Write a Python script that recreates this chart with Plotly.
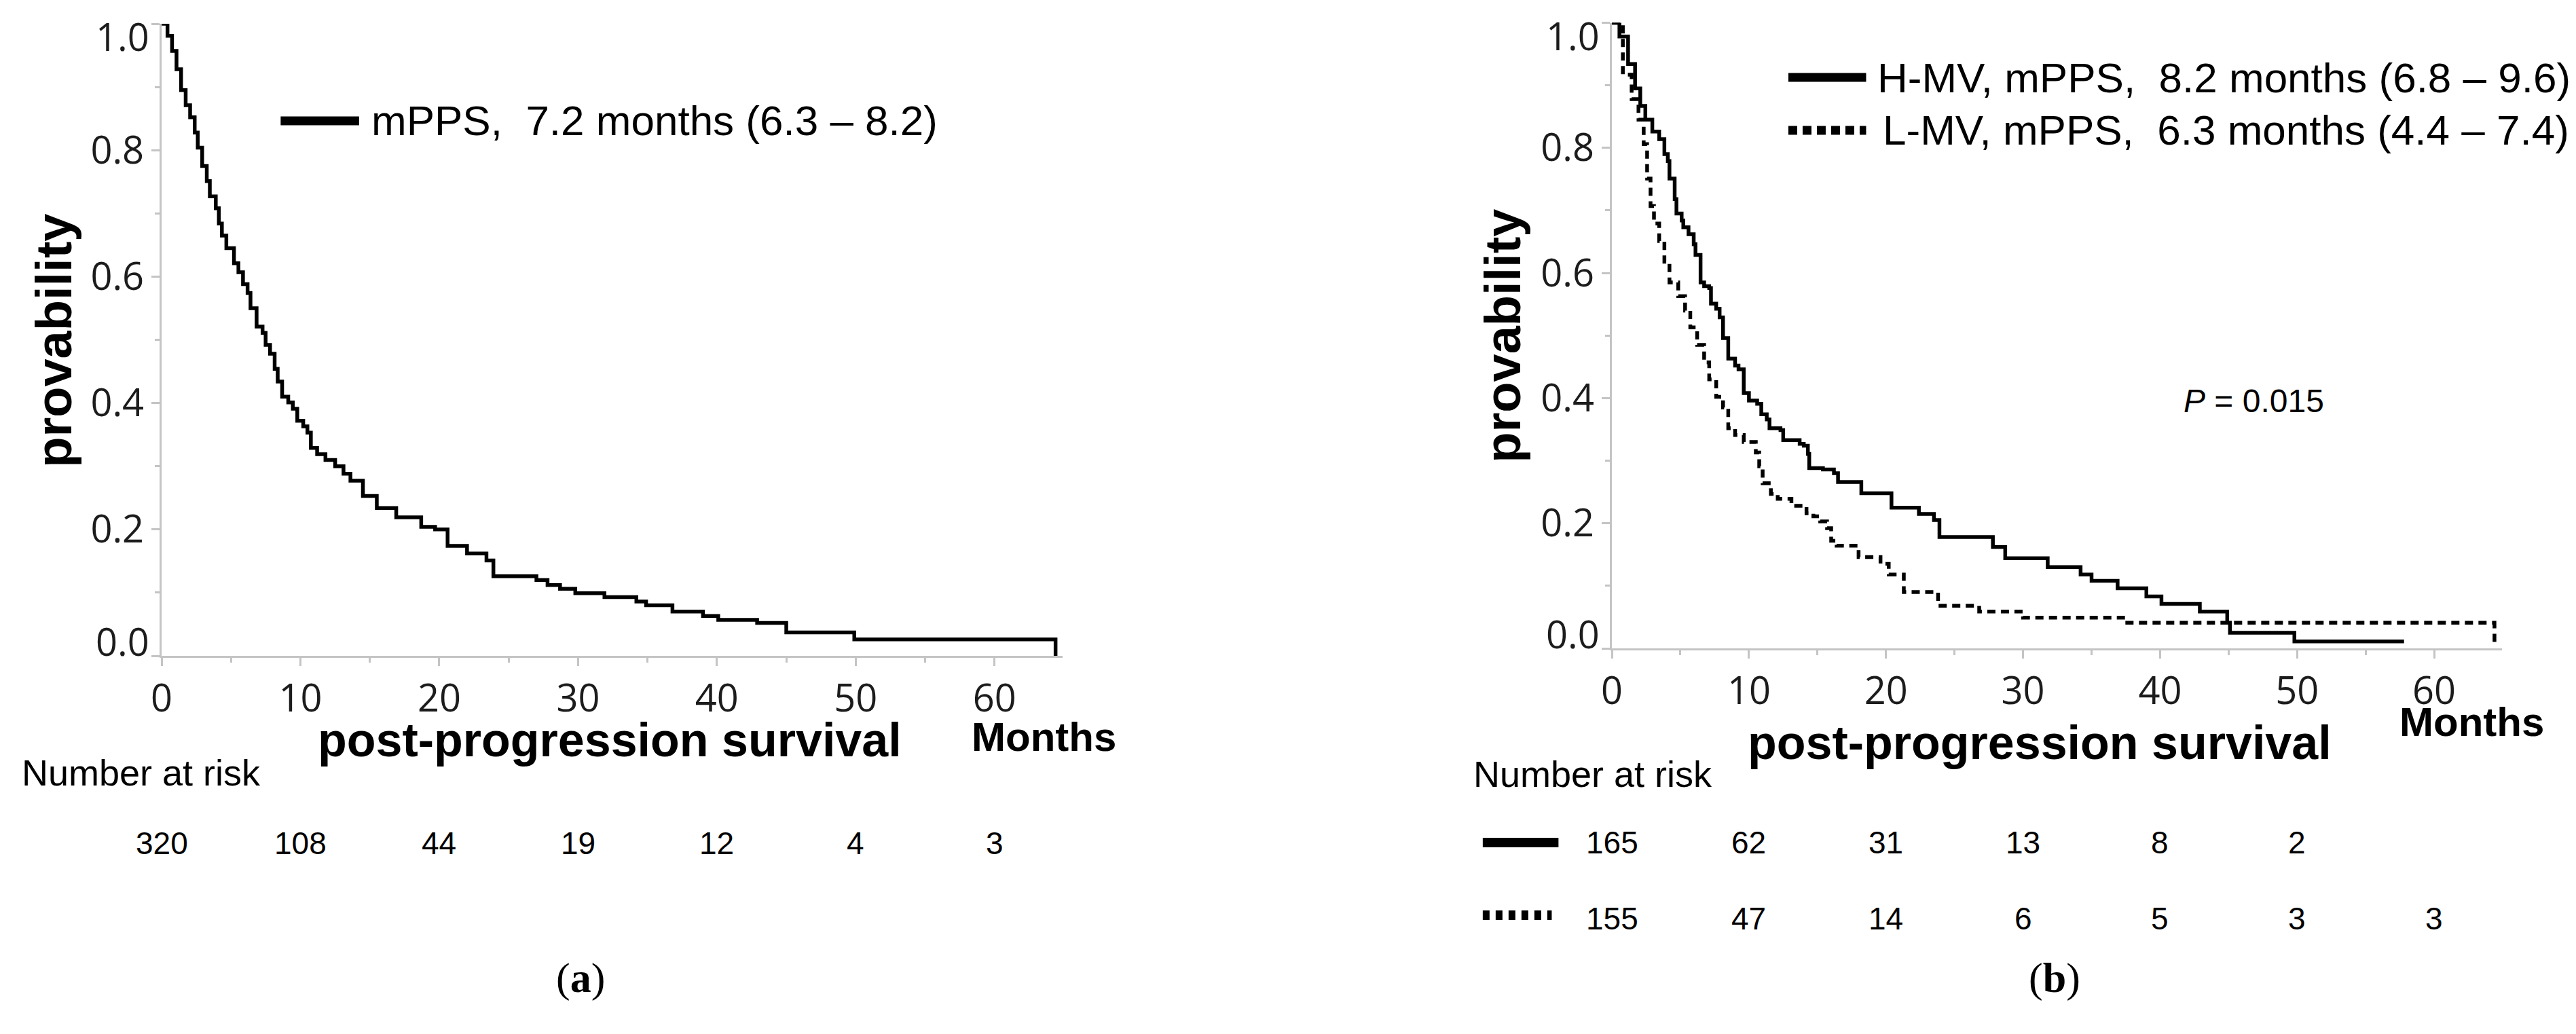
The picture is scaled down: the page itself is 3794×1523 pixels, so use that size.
import plotly.graph_objects as go

# ---------------- data ----------------
# Panel (a): all patients, Kaplan-Meier post-progression survival
t_all = [0, 0.42, 0.75, 1.07, 1.40, 1.73, 2.05, 2.38, 2.60, 2.92, 3.25, 3.47, 3.90, 4.12,
         4.34, 4.66, 5.21, 5.53, 5.86, 6.19, 6.40, 6.84, 7.27, 7.49, 7.81, 8.14, 8.36, 8.68,
         9.12, 9.45, 9.77, 10.2, 10.5, 10.75, 11.2, 11.8, 12.5, 13.1, 13.6, 14.5, 15.5, 16.9,
         18.7, 19.7, 20.6, 22.0, 23.4, 23.9, 27.0, 27.8, 28.7, 29.8, 31.9, 34.2, 34.9, 36.8,
         39.0, 40.1, 42.9, 45.0, 49.9, 64.4]
s_all = [1.0, 0.981, 0.957, 0.928, 0.895, 0.871, 0.852, 0.828, 0.804, 0.775, 0.751, 0.727,
         0.708, 0.684, 0.665, 0.645, 0.621, 0.607, 0.588, 0.574, 0.550, 0.521, 0.511, 0.492,
         0.478, 0.454, 0.434, 0.410, 0.401, 0.391, 0.372, 0.363, 0.353, 0.329, 0.319, 0.310,
         0.300, 0.288, 0.277, 0.253, 0.234, 0.219, 0.204, 0.200, 0.174, 0.162, 0.151, 0.126,
         0.120, 0.112, 0.106, 0.099, 0.093, 0.086, 0.080, 0.070, 0.063, 0.057, 0.052, 0.037,
         0.026, 0.0]

# Panel (b): H-MV (solid) and L-MV (dotted)
t_hmv = [0, 0.55, 1.18, 1.69, 2.07, 2.44, 2.95, 3.45, 3.83, 4.08, 4.20, 4.58, 4.71, 5.09,
         5.21, 5.59, 5.97, 6.10, 6.47, 6.73, 7.10, 7.23, 7.61, 7.86, 8.11, 8.49, 8.99, 9.24,
         9.62, 10.0, 10.6, 10.9, 11.3, 11.5, 12.3, 12.5, 13.7, 14.0, 14.3, 14.4, 15.4, 16.2,
         16.5, 18.2, 20.4, 22.4, 23.5, 23.9, 27.8, 28.7, 31.8, 34.2, 35.0, 36.9, 39.0, 40.1,
         42.9, 44.9, 45.1, 49.8, 57.8]
s_hmv = [1.0, 0.978, 0.934, 0.895, 0.867, 0.845, 0.826, 0.814, 0.790, 0.779, 0.751, 0.718,
         0.695, 0.684, 0.673, 0.662, 0.646, 0.629, 0.585, 0.579, 0.576, 0.551, 0.543, 0.529,
         0.496, 0.463, 0.452, 0.446, 0.408, 0.396, 0.391, 0.374, 0.366, 0.352, 0.349, 0.333,
         0.327, 0.324, 0.311, 0.288, 0.286, 0.280, 0.266, 0.248, 0.225, 0.215, 0.205, 0.178,
         0.162, 0.144, 0.130, 0.118, 0.108, 0.096, 0.083, 0.071, 0.059, 0.041, 0.025, 0.011,
         0.011]
t_lmv = [0, 0.8, 1.44, 1.94, 2.32, 2.57, 2.82, 3.07, 3.45, 3.83, 4.2, 4.84, 5.34, 5.72, 6.22,
         6.73, 7.1, 7.61, 8.11, 8.49, 8.99, 9.62, 10.5, 10.75, 11.0, 11.6, 12.1, 13.1, 14.2,
         14.7, 15.2, 15.7, 16.0, 16.4, 18.0, 19.6, 20.2, 21.3, 23.8, 26.8, 30.0, 37.3, 64.4]
s_lmv = [1.0, 0.917, 0.878, 0.845, 0.806, 0.751, 0.707, 0.679, 0.651, 0.618, 0.585, 0.563,
         0.540, 0.513, 0.485, 0.457, 0.430, 0.402, 0.385, 0.352, 0.341, 0.330, 0.313, 0.291,
         0.264, 0.247, 0.239, 0.228, 0.216, 0.211, 0.203, 0.192, 0.172, 0.164, 0.146, 0.135,
         0.118, 0.090, 0.068, 0.059, 0.049, 0.041, 0.008]

# Number at risk tables
risk_times = [0, 10, 20, 30, 40, 50, 60]
risk_all = [320, 108, 44, 19, 12, 4, 3]
risk_hmv = [165, 62, 31, 13, 8, 2, None]
risk_lmv = [155, 47, 14, 6, 5, 3, 3]

# Axis ticks
x_ticks = [0, 10, 20, 30, 40, 50, 60]
y_ticks = [0.0, 0.2, 0.4, 0.6, 0.8, 1.0]
y_ticktext = ["0.0", "0.2", "0.4", "0.6", "0.8", "1.0"]

# Texts
legend_a = "mPPS,\u00a0\u00a07.2 months (6.3 \u2013 8.2)"
legend_h = "H-MV, mPPS,\u00a0\u00a08.2 months (6.8 \u2013 9.6)"
legend_l = "L-MV, mPPS,\u00a0\u00a06.3 months (4.4 \u2013 7.4)"
p_text = "<i>P</i> = 0.015"

# ---------------- layout helpers ----------------
W, H = 3794, 1523


def px(x):
    return x / W


def py(y):
    return 1 - y / H


SANS = "Liberation Sans, Arial, sans-serif"
TICKFONT = dict(family="Open Sans, sans-serif", size=56, color="#1c1c1c")
AXCOL = "#c4c4c4"

fig = go.Figure()

fig.add_trace(go.Scatter(x=t_all, y=s_all, mode="lines", xaxis="x", yaxis="y",
                         line=dict(color="black", width=5.5, shape="hv"),
                         showlegend=False, hoverinfo="skip"))
fig.add_trace(go.Scatter(x=t_hmv, y=s_hmv, mode="lines", xaxis="x2", yaxis="y2",
                         line=dict(color="black", width=5.5, shape="hv"),
                         showlegend=False, hoverinfo="skip"))
fig.add_trace(go.Scatter(x=t_lmv, y=s_lmv, mode="lines", xaxis="x2", yaxis="y2",
                         line=dict(color="black", width=5.5, shape="hv", dash="12px,8px"),
                         showlegend=False, hoverinfo="skip"))


def xaxis_style(domain, rng, anchor):
    return dict(domain=domain, range=rng, anchor=anchor, showline=True, linecolor=AXCOL,
                linewidth=2.5, ticks="outside", ticklen=12, tickwidth=2.5, tickcolor=AXCOL,
                tickmode="array", tickvals=x_ticks, showgrid=False, zeroline=False,
                tickfont=TICKFONT,
                minor=dict(ticks="outside", ticklen=7, tickwidth=2.5, tickcolor=AXCOL,
                           tickmode="linear", tick0=0, dtick=5, showgrid=False),
                fixedrange=True)


def yaxis_style(domain, anchor):
    # end labels (0.0 and 1.0) are drawn as annotations so that they can sit
    # inside the axis extent, as in the reference
    inner_text = [t if 0 < v < 1 else "" for v, t in zip(y_ticks, y_ticktext)]
    return dict(domain=domain, range=[0, 1], anchor=anchor, showline=True, linecolor=AXCOL,
                linewidth=2.5, ticks="outside", ticklen=12, tickwidth=2.5, tickcolor=AXCOL,
                tickmode="array", tickvals=y_ticks, ticktext=inner_text,
                showgrid=False, zeroline=False, tickfont=TICKFONT,
                minor=dict(ticks="outside", ticklen=7, tickwidth=2.5, tickcolor=AXCOL,
                           tickmode="linear", tick0=0, dtick=0.1, showgrid=False),
                fixedrange=True)


fig.update_layout(
    width=W, height=H, autosize=False,
    margin=dict(l=0, r=0, t=0, b=0),
    paper_bgcolor="white", plot_bgcolor="white",
    xaxis=xaxis_style([px(215), px(1548)], [0, (1548 - 215) / 20.53], "y"),
    yaxis=yaxis_style([py(958), py(27)], "x"),
    xaxis2=xaxis_style([px(2360), px(3677)], [0, (3677 - 2360) / 20.27], "y2"),
    yaxis2=yaxis_style([py(947), py(25.5)], "x2"),
    showlegend=False,
)

ann = []


def text(x, y, s, size, bold=False, xanchor="center", angle=0, family=SANS, xref="paper"):
    ann.append(dict(x=x if xref != "paper" else px(x), y=py(y), xref=xref, yref="paper",
                    text=f"<b>{s}</b>" if bold else s, showarrow=False, xanchor=xanchor,
                    yanchor="middle", textangle=angle,
                    font=dict(family=family, size=size, color="black")))


# y tick labels at both ends of the axes (placed with the y scale)
for axis_x, yref in ((215, "y"), (2360, "y2")):
    for v, t in zip(y_ticks, y_ticktext):
        if v in (0.0, 1.0):
            ann.append(dict(x=px(axis_x - 16), y=v, xref="paper", yref=yref, text=t,
                            showarrow=False, xanchor="right", yanchor="middle",
                            yshift=22 if v == 0.0 else -18, font=TICKFONT))

# axis titles
text(56, 494, "provability", 74, bold=True, angle=-90)
text(2199, 487, "provability", 74, bold=True, angle=-90)
text(878, 1082, "post-progression survival", 70, bold=True)
text(2993, 1086, "post-progression survival", 70, bold=True)
text(1520, 1077, "Months", 60, bold=True)
text(3632, 1055, "Months", 60, bold=True)

# legends
text(523, 170, legend_a, 62, xanchor="left")
text(2751, 106, legend_h, 62, xanchor="left")
text(2759, 184, legend_l, 62, xanchor="left")
text(3309, 582, p_text, 48)

# number at risk
text(6, 1130, "Number at risk", 54, xanchor="left")
text(2153, 1132, "Number at risk", 54, xanchor="left")
for t, n in zip(risk_times, risk_all):
    if n is not None:
        text(t, 1234, str(n), 46, xref="x")
for t, n in zip(risk_times, risk_hmv):
    if n is not None:
        text(t, 1233, str(n), 46, xref="x2")
for t, n in zip(risk_times, risk_lmv):
    if n is not None:
        text(t, 1345, str(n), 46, xref="x2")

# panel labels
SERIF = "Liberation Serif, Times New Roman, serif"
text(835, 1432, "(<b>a</b>)", 62, family=SERIF)
text(3015, 1432, "(<b>b</b>)", 62, family=SERIF)

fig.update_layout(annotations=ann)

# legend / risk-table line samples
shapes = []


def sample(x0, x1, y, width, dash="solid"):
    shapes.append(dict(type="line", xref="paper", yref="paper", x0=px(x0), x1=px(x1),
                       y0=py(y), y1=py(y), line=dict(color="black", width=width, dash=dash)))


sample(391, 507, 170, 13)
sample(2621, 2736, 106, 13)
sample(2621, 2736, 184, 13, "13px,8px")
sample(2169, 2281, 1233, 14)
sample(2169, 2271, 1340, 14, "10px,9px")
fig.update_layout(shapes=shapes)

fig.write_html("out.html", config={"displayModeBar": False})
